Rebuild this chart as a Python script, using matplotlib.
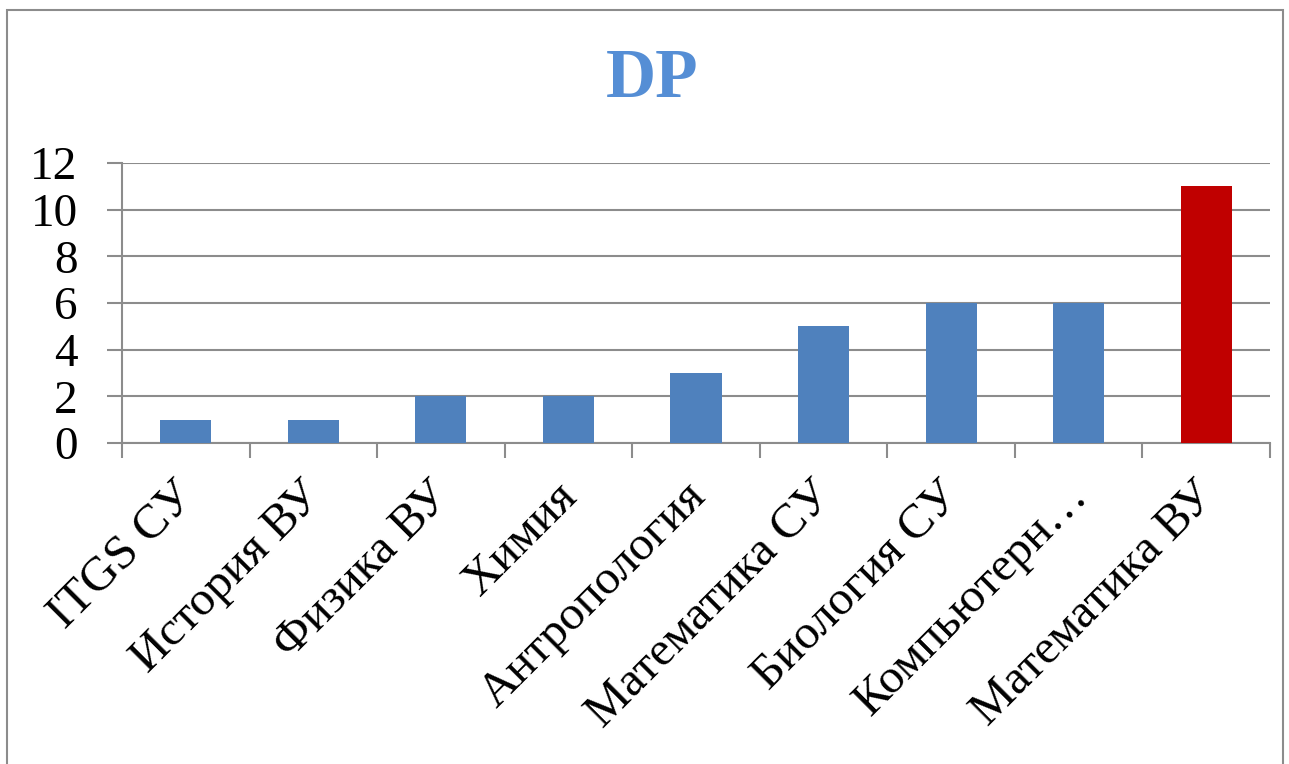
import matplotlib
matplotlib.use("Agg")
import matplotlib.pyplot as plt
from matplotlib.patches import Rectangle
from matplotlib.transforms import ScaledTranslation
import numpy as np

categories = ["ITGS СУ", "История ВУ", "Физика ВУ", "Химия", "Антропология",
              "Математика СУ", "Биология СУ", "Компьютерн…", "Математика ВУ"]
values = [1, 1, 2, 2, 3, 5, 6, 6, 11]
bar_colors = ["#4F81BD"] * 8 + ["#C00000"]
y_ticks = [0, 2, 4, 6, 8, 10, 12]
title = "DP"

W, H = 1289, 764
fig = plt.figure(figsize=(W / 100, H / 100), dpi=100)
fig.patch.set_facecolor("white")

# outer chart border
fig.patches.append(Rectangle((7 / W, -0.05), (1283 - 7) / W, 1.05 - 10 / H,
                             transform=fig.transFigure, fill=False,
                             edgecolor="#8C8C8C", linewidth=1.5))

ax = fig.add_axes([122 / W, 1 - 443 / H, (1270 - 122) / W, (443 - 163) / H])
x = np.arange(len(categories))
ax.bar(x, values, width=0.4, color=bar_colors, zorder=3)

ax.set_xlim(-0.5, len(categories) - 0.5)
ax.set_ylim(0, 12)
ax.set_yticks(y_ticks)
ax.set_yticklabels([str(v) for v in y_ticks], fontsize=34,
                   family="Liberation Serif")
ax.yaxis.grid(True, color="#8C8C8C", linewidth=1.5, zorder=0)
ax.tick_params(axis="y", length=11, width=1.5, color="#8C8C8C", pad=21)

ax.set_xticks(x)
ax.set_xticklabels(categories, rotation=45, ha="right", va="top",
                   fontsize=35, family="Liberation Serif")
ax.tick_params(axis="x", which="major", length=0, pad=22)
ax.set_xticks(np.arange(-0.5, len(categories)), minor=True)
ax.tick_params(axis="x", which="minor", length=11, width=1.5, color="#8C8C8C")
shift = ScaledTranslation(18 / 100, 0, fig.dpi_scale_trans)
for lbl in ax.get_xticklabels():
    lbl.set_transform(lbl.get_transform() + shift)

for s in ["top", "right"]:
    ax.spines[s].set_visible(False)
for s in ["left", "bottom"]:
    ax.spines[s].set_color("#8C8C8C")
    ax.spines[s].set_linewidth(1.5)

fig.text(652 / W, 1 - 80 / H, title, ha="center", va="center", fontsize=50,
         fontweight="bold", color="#558ED5", family="Liberation Serif")

fig.savefig("out.png", dpi=100)
